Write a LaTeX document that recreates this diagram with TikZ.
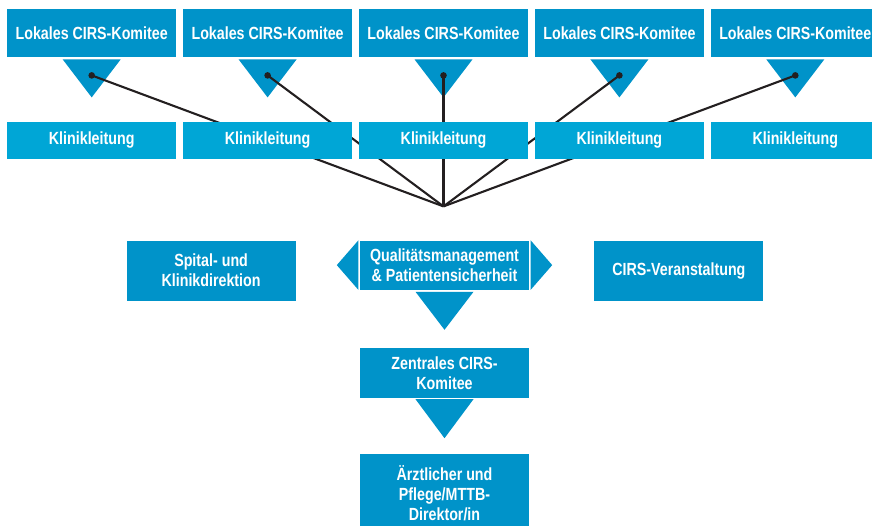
\documentclass[tikz,border=0pt]{standalone}
\usepackage{fontspec}
\setmainfont{Liberation Sans}[FakeStretch=0.81]
\usetikzlibrary{calc,positioning}
\definecolor{CirsBlue}{RGB}{0,147,201}
\definecolor{KlinikBlue}{RGB}{0,166,214}
\definecolor{LineBlack}{RGB}{35,31,32}

\begin{document}
\begin{tikzpicture}[x=1pt,y=-1pt,node distance=6.5pt,
  box/.style={fill=CirsBlue,text=white,inner sep=0pt,minimum width=169pt,align=center,font=\fontsize{17.6}{20}\selectfont\bfseries},
  kbox/.style={box,fill=KlinikBlue,minimum height=37pt}]
\useasboundingbox (0,0) rectangle (872,526);
\clip (0,0) rectangle (872,526);
% lokale Komitees
\node[box,minimum height=48pt,anchor=north west] (lk1) at (7,9) {Lokales CIRS-Komitee};
\node[box,minimum height=48pt,right=of lk1] (lk2) {Lokales CIRS-Komitee};
\node[box,minimum height=48pt,right=of lk2] (lk3) {Lokales CIRS-Komitee};
\node[box,minimum height=48pt,right=of lk3] (lk4) {Lokales CIRS-Komitee};
\node[box,minimum height=48pt,right=of lk4] (lk5) {Lokales CIRS-Komitee};
\coordinate (hub) at ($(lk3.south)+(0,149)$);
\foreach \i in {1,...,5}{
  \fill[CirsBlue] ($(lk\i.south)+(-29,2)$) -- ($(lk\i.south)+(29,2)$) -- ($(lk\i.south)+(0,40)$) -- cycle;
  \coordinate (d\i) at ($(lk\i.south)+(0,18)$);
  \draw[LineBlack,line width=2.1pt] (d\i) -- (hub);
  \fill[LineBlack] (d\i) circle (3.3pt);
}
% Klinikleitungen
\node[kbox,below=64pt of lk1] (kl1) {Klinikleitung};
\node[kbox,below=64pt of lk2] (kl2) {Klinikleitung};
\node[kbox,below=64pt of lk3] (kl3) {Klinikleitung};
\node[kbox,below=64pt of lk4] (kl4) {Klinikleitung};
\node[kbox,below=64pt of lk5] (kl5) {Klinikleitung};
% Mitte
\node[box,minimum height=49pt,anchor=north] (qm) at ($(hub)+(1,34)$) {Qualitätsmanagement\\\& Patientensicherheit};
\fill[CirsBlue] ($(qm.north west)+(-1.5,0)$) -- ($(qm.south west)+(-1.5,0)$) -- ($(qm.west)+(-23,0)$) -- cycle;
\fill[CirsBlue] ($(qm.north east)+(1.5,0)$) -- ($(qm.south east)+(1.5,0)$) -- ($(qm.east)+(23,0)$) -- cycle;
\fill[CirsBlue] ($(qm.south)+(-29,2)$) -- ($(qm.south)+(29,2)$) -- ($(qm.south)+(0,40)$) -- cycle;
\node[box,minimum height=60pt,anchor=north east] (sk) at ($(qm.north west)+(-64,0)$) {Spital- und\\Klinikdirektion};
\node[box,minimum height=60pt,anchor=north west] (cv) at ($(qm.north east)+(65,0)$) {CIRS-Veranstaltung};
% zentral
\node[box,minimum height=50pt,below=58pt of qm] (zk) {Zentrales CIRS-\\Komitee};
\fill[CirsBlue] ($(zk.south)+(-29,1)$) -- ($(zk.south)+(29,1)$) -- ($(zk.south)+(0,40)$) -- cycle;
\node[box,minimum height=78pt,below=56pt of zk] (ad) {Ärztlicher und\\Pflege/MTTB-\\Direktor/in};
\end{tikzpicture}
\end{document}
